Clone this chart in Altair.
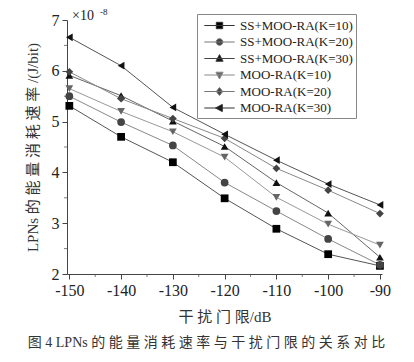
import altair as alt
import pandas as pd

x_vals = [-150, -140, -130, -120, -110, -100, -90]
series = [
    "SS+MOO-RA(K=10)", "SS+MOO-RA(K=20)", "SS+MOO-RA(K=30)",
    "MOO-RA(K=10)", "MOO-RA(K=20)", "MOO-RA(K=30)",
]
ss_k10 = [5.31, 4.70, 4.20, 3.49, 2.89, 2.39, 2.16]
ss_k20 = [5.50, 4.99, 4.53, 3.80, 3.24, 2.69, 2.18]
ss_k30 = [5.91, 5.51, 5.01, 4.51, 3.80, 3.20, 2.33]
moo_k10 = [5.65, 5.20, 4.80, 4.30, 3.51, 2.98, 2.57]
moo_k20 = [5.98, 5.45, 5.06, 4.67, 4.08, 3.65, 3.19]
moo_k30 = [6.66, 6.10, 5.28, 4.75, 4.24, 3.77, 3.36]
all_vals = [ss_k10, ss_k20, ss_k30, moo_k10, moo_k20, moo_k30]

line_colors = ["#555555", "#888888", "#666666", "#999999", "#888888", "#555555"]
mark_colors = ["#000000", "#444444", "#111111", "#666666", "#444444", "#111111"]
legend_stroke = ["#333333", "#777777", "#444444", "#888888", "#777777", "#333333"]
shapes = ["square", "circle", "triangle-up", "triangle-down", "diamond", "triangle-left"]
legend_paths = [
    "M-1.9,0H1.9M-0.4,-0.4H0.4V0.4H-0.4Z",
    "M-1.9,0H1.9M-0.42,0A0.42,0.42 0 1,0 0.42,0A0.42,0.42 0 1,0 -0.42,0Z",
    "M-1.9,0H1.9M0,-0.5L0.45,0.35H-0.45Z",
    "M-1.9,0H1.9M0,0.5L0.45,-0.35H-0.45Z",
    "M-1.9,0H1.9M0,-0.5L0.4,0L0,0.5L-0.4,0Z",
    "M-1.9,0H1.9M-0.5,0L0.35,-0.45V0.45Z",
]

rows = []
for s, vals in zip(series, all_vals):
    for xv, yv in zip(x_vals, vals):
        rows.append({"x": xv, "y": yv, "series": s})
df = pd.DataFrame(rows)

FONT = "Liberation Serif, Times New Roman, Noto Sans CJK SC"

xscale = alt.Scale(domain=[-150.45, -89.6], nice=False, zero=False)
yscale = alt.Scale(domain=[2, 7], nice=False, zero=False)

xenc = alt.X("x:Q", scale=xscale,
             axis=alt.Axis(values=x_vals, title="干 扰 门 限/dB", grid=False,
                           labelFontSize=16, titleFontSize=15, titleFont=FONT,
                           labelFont=FONT, labelColor="#222", titleColor="#333",
                           titleFontWeight="normal",
                           domainColor="#444", tickColor="#444", tickSize=5,
                           labelPadding=3, titlePadding=11,
                           labelExpr="datum.value"))
yenc = alt.Y("y:Q", scale=yscale,
             axis=alt.Axis(values=[2, 3, 4, 5, 6, 7], title="LPNs 的 能 量 消 耗 速 率 /(J/bit)",
                           grid=False, labelFontSize=16, titleFontSize=15,
                           titleFontWeight="normal",
                           titleFont=FONT, labelFont=FONT, labelColor="#222",
                           titleColor="#333", domainColor="#444", tickColor="#444",
                           tickSize=5, labelPadding=3, titlePadding=11))

minor_x = alt.Chart(pd.DataFrame({"x": [-145, -135, -125, -115, -105, -95]})).mark_tick(
    orient="vertical", color="#444", size=3, thickness=1
).encode(x=alt.X("x:Q", scale=xscale), y=alt.value(255.5))

minor_y = alt.Chart(pd.DataFrame({"y": [2.5, 3.5, 4.5, 5.5, 6.5]})).mark_tick(
    orient="horizontal", color="#444", size=3, thickness=1
).encode(y=alt.Y("y:Q", scale=yscale), x=alt.value(-1.5))

lines = alt.Chart(df).mark_line(strokeWidth=1).encode(
    x=xenc, y=yenc,
    color=alt.Color("series:N", scale=alt.Scale(domain=series, range=line_colors), legend=None),
    detail="series:N",
)

points = alt.Chart(df).mark_point(filled=True, size=60, opacity=1).encode(
    x=alt.X("x:Q", scale=xscale), y=alt.Y("y:Q", scale=yscale),
    shape=alt.Shape("series:N", scale=alt.Scale(domain=series, range=shapes), legend=None),
    fill=alt.Fill("series:N", scale=alt.Scale(domain=series, range=mark_colors), legend=None),
)

leg = alt.Legend(
    title=None, orient="none", legendX=130, legendY=-6,
    symbolSize=256, symbolStrokeWidth=1, symbolOpacity=1,
    labelFont=FONT, labelFontSize=13, labelColor="#222",
    rowPadding=0.5, labelOffset=12, symbolOffset=11,
    strokeColor="#888", padding=3, offset=0,
    labelLimit=200,
)

legend_layer = alt.Chart(df).mark_point(filled=True, opacity=0, strokeWidth=1).encode(
    x=alt.X("x:Q", scale=xscale), y=alt.Y("y:Q", scale=yscale),
    shape=alt.Shape("series:N", scale=alt.Scale(domain=series, range=legend_paths), legend=leg),
    fill=alt.Fill("series:N", scale=alt.Scale(domain=series, range=mark_colors), legend=leg),
    stroke=alt.Stroke("series:N", scale=alt.Scale(domain=series, range=legend_stroke), legend=leg),
)

mult_text = alt.Chart(pd.DataFrame({"t": ["×10"]})).mark_text(
    font=FONT, fontSize=14, color="#222", align="left", baseline="alphabetic"
).encode(text="t:N", x=alt.value(5), y=alt.value(0))
exp_text = alt.Chart(pd.DataFrame({"t": ["-8"]})).mark_text(
    font=FONT, fontSize=9, color="#222", align="left", baseline="alphabetic"
).encode(text="t:N", x=alt.value(33), y=alt.value(-5))

chart = alt.layer(lines, points, legend_layer, minor_x, minor_y, mult_text, exp_text).resolve_scale(
    shape="independent", color="independent", fill="independent", stroke="independent"
).properties(
    width=315, height=254,
    title=alt.TitleParams(
        text="图 4   LPNs 的 能 量 消 耗 速 率 与 干 扰 门 限 的 关 系 对 比",
        orient="bottom", anchor="middle", font=FONT, fontSize=14, fontWeight="normal",
        color="#333", offset=12, dx=-18,
    ),
    padding={"left": 59, "top": 12, "right": 16, "bottom": 80},
    autosize=alt.AutoSizeParams(type="none"),
).configure_view(stroke=None).configure_axis(labelFlush=False)

chart.save("out.html", embed_options={"renderer": "svg", "actions": False})
